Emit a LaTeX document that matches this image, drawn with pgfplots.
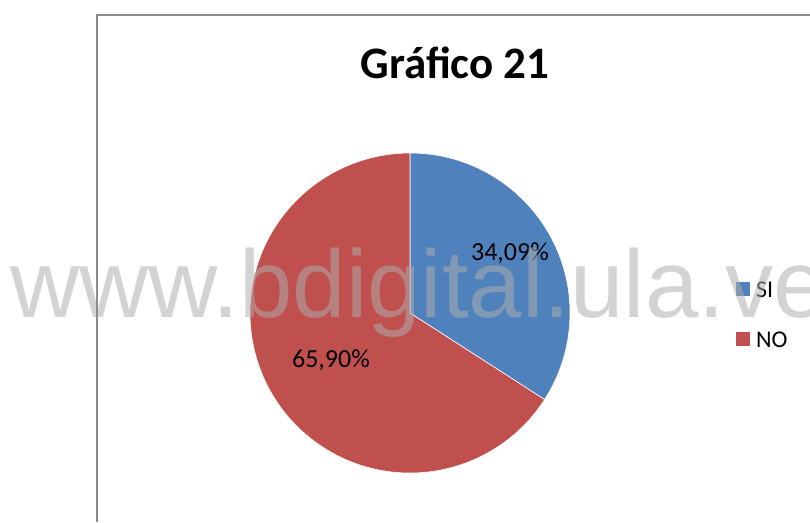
\documentclass[border=0pt]{standalone}
\usepackage{pgfplots}
\pgfplotsset{compat=1.18}
\usepackage{pgfplotstable}
\usepackage{fontspec}
\setmainfont{Carlito}
\newfontfamily\wmfont{Liberation Sans}
\definecolor{siblue}{HTML}{4F81BD}
\definecolor{nored}{HTML}{C0504D}
\definecolor{framegray}{HTML}{8C8C8C}
\definecolor{wm}{HTML}{AEAEAE}
\pgfplotstableread{
label value
SI 34.09
NO 65.90
}\piedata
\begin{document}
\begin{tikzpicture}
\useasboundingbox (0,0) rectangle (810pt,522pt);
\pgfplotstablegetelem{0}{value}\of\piedata \let\vsi\pgfplotsretval
\pgfplotstablegetelem{1}{value}\of\piedata \let\vno\pgfplotsretval
\pgfmathsetmacro\asi{360*\vsi/(\vsi+\vno)}
\pgfmathsetmacro\aend{90-\asi}
\begin{axis}[scale only axis, width=810pt, height=522pt,
  xmin=0, xmax=810, ymin=0, ymax=522, y dir=reverse,
  hide axis, clip=false, /pgf/number format/assume math mode=true]
\filldraw[fill=siblue, draw=white, line width=0.6pt] (axis cs:410,313) -- ++(90:160pt) arc[start angle=90, end angle=\aend, radius=160pt] -- cycle;
\filldraw[fill=nored, draw=white, line width=0.6pt] (axis cs:410,313) -- ++(\aend:160pt) arc[start angle=\aend, end angle=-270, radius=160pt] -- cycle;
\node[anchor=base, inner sep=0pt, font=\fontsize{26}{26}\selectfont] at (axis cs:510,260) {\pgfmathprintnumber[fixed, fixed zerofill, precision=2, use comma, assume math mode=true]{\vsi}\%};
\node[anchor=base, inner sep=0pt, font=\fontsize{26}{26}\selectfont] at (axis cs:331,367) {\pgfmathprintnumber[fixed, fixed zerofill, precision=2, use comma, assume math mode=true]{\vno}\%};
\node[anchor=base, inner sep=0pt, font=\bfseries\fontsize{45}{45}\selectfont] at (axis cs:455,78) {Gráfico 21};
\fill[siblue] (axis cs:736,282) rectangle (axis cs:750,296);
\fill[nored] (axis cs:736,332) rectangle (axis cs:750,346);
\node[anchor=base west, inner sep=0pt, font=\fontsize{24}{24}\selectfont] at (axis cs:756,297) {SI};
\node[anchor=base west, inner sep=0pt, font=\fontsize{24}{24}\selectfont] at (axis cs:756,347) {NO};
\node[anchor=base west, inner sep=0pt, text=wm, opacity=0.54, font=\wmfont\fontsize{96}{96}\selectfont] at (axis cs:10,317) {www.bdigital.ula.ve};
\draw[framegray, line width=1.6pt] (axis cs:97,522) -- (axis cs:97,15) -- (axis cs:810,15);
\end{axis}
\end{tikzpicture}
\end{document}
